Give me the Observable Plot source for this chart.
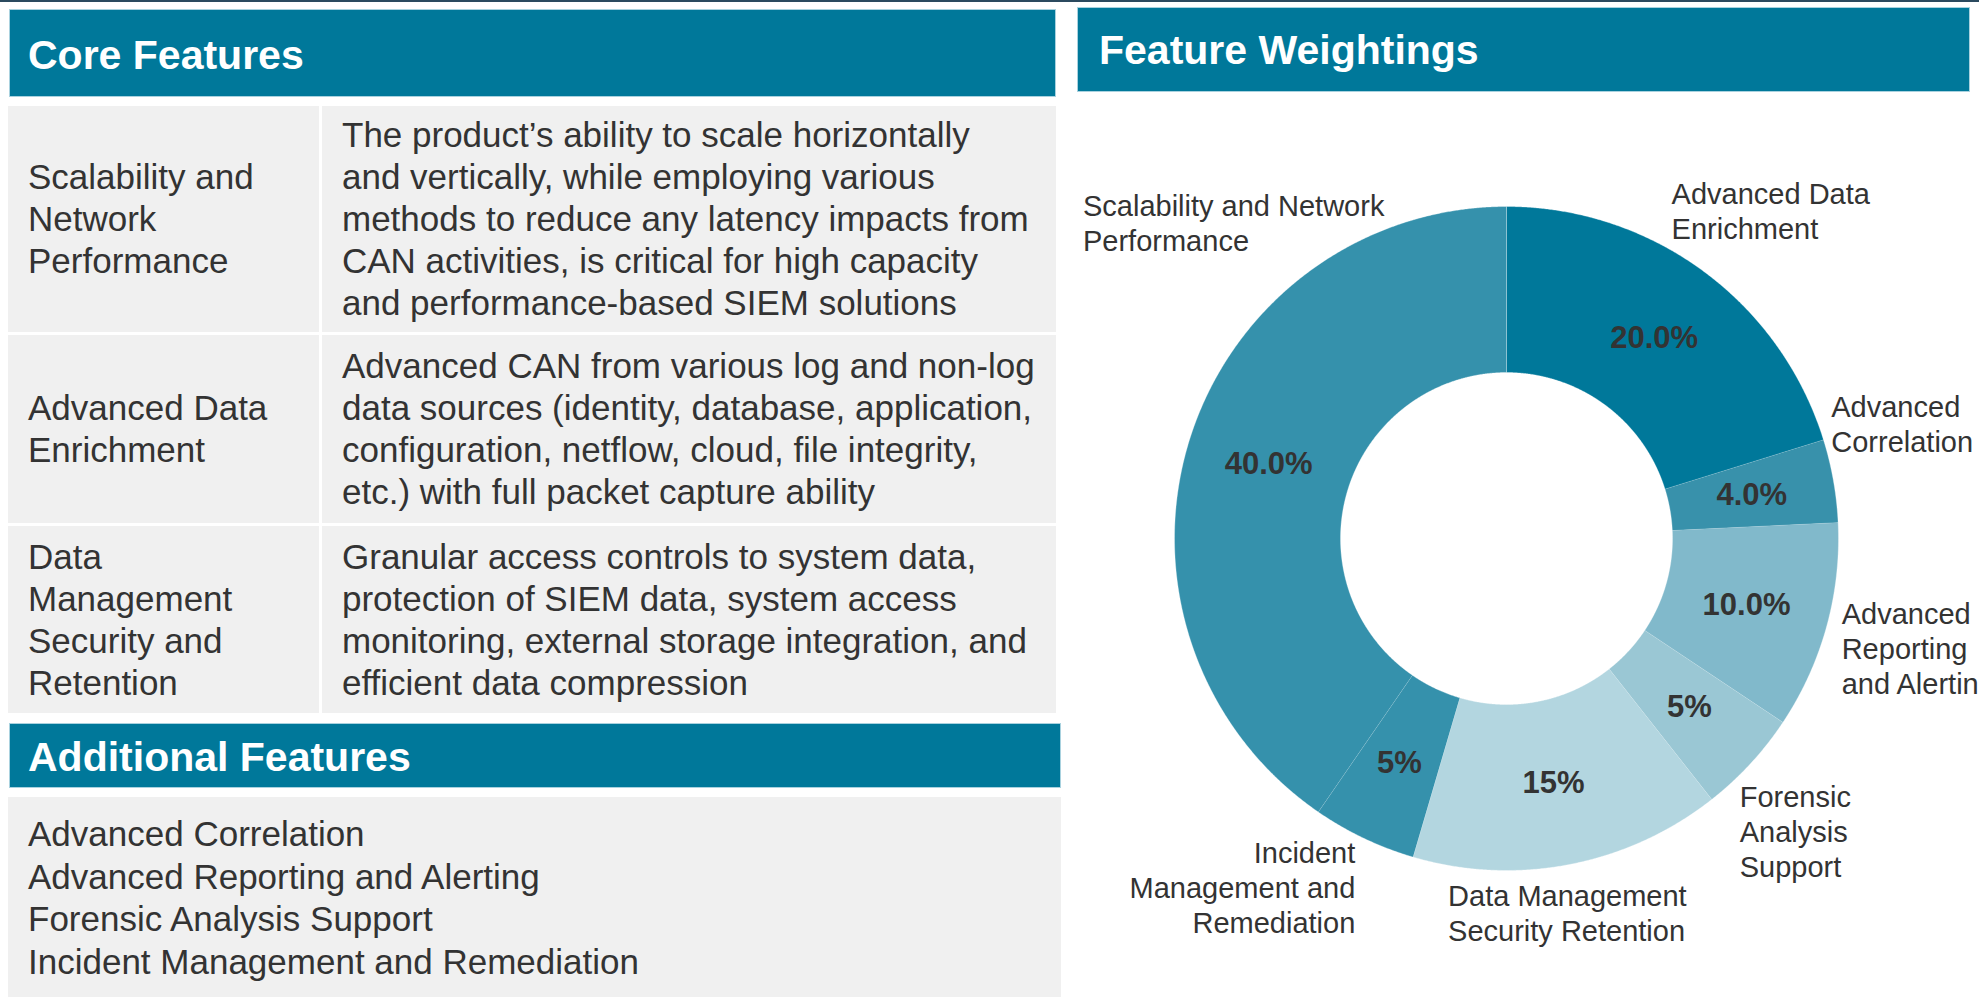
<!DOCTYPE html>
<html><head><meta charset="utf-8">
<script src="https://cdn.jsdelivr.net/npm/d3@7"></script>
<script src="https://cdn.jsdelivr.net/npm/@observablehq/plot@0.6"></script>
<style>
html,body{margin:0;padding:0;background:#fff;}
body{width:1979px;height:997px;overflow:hidden;position:relative;font-family:"Liberation Sans",Arial,sans-serif;color:#333;}
.abs{position:absolute;box-sizing:border-box;}
.hdr{background:#00789a;border:1px solid #a9d2df;}
.hdrtext{position:absolute;color:#fff;font-weight:bold;font-size:41px;line-height:41px;white-space:nowrap;}
.cell{background:#f0f0f0;display:flex;align-items:center;padding-left:20px;font-size:35px;line-height:42px;color:#333;}
.cell div{white-space:pre;}
</style></head><body>
<script>
// ---------- data ----------
const coreFeatures = ["Scalability and\nNetwork\nPerformance", "Advanced Data\nEnrichment", "Data\nManagement\nSecurity and\nRetention"];
const coreDescriptions = [
  "The product’s ability to scale horizontally\nand vertically, while employing various\nmethods to reduce any latency impacts from\nCAN activities, is critical for high capacity\nand performance-based SIEM solutions",
  "Advanced CAN from various log and non-log\ndata sources (identity, database, application,\nconfiguration, netflow, cloud, file integrity,\netc.) with full packet capture ability",
  "Granular access controls to system data,\nprotection of SIEM data, system access\nmonitoring, external storage integration, and\nefficient data compression"
];
const additionalFeatures = ["Advanced Correlation", "Advanced Reporting and Alerting", "Forensic Analysis Support", "Incident Management and Remediation"];

const categories = ["Advanced Data Enrichment", "Advanced Correlation", "Advanced Reporting and Alerting", "Forensic Analysis Support", "Data Management Security Retention", "Incident Management and Remediation", "Scalability and Network Performance"];
const weights = [20, 4, 10, 5, 15, 5, 40];
const valueLabels = ["20.0%", "4.0%", "10.0%", "5%", "15%", "5%", "40.0%"];
const sliceLabels = ["Advanced Data\nEnrichment", "Advanced\nCorrelation", "Advanced\nReporting\nand Alerting", "Forensic\nAnalysis\nSupport", "Data Management\nSecurity Retention", "Incident\nManagement and\nRemediation", "Scalability and Network\nPerformance"];

// ---------- styles / layout ----------
const sliceColors = ["#00789a", "#3891ab", "#81b9cb", "#9ac7d4", "#b3d6e0", "#3591ac", "#3591ac"];
const labelNudge = [[-78, 4, "start"], [-79, -42, "start"], [-60, 2, "start"], [-68, 16, "start"], [-136, -27, "start"], [25, -20, "end"], [-32, -193, "start"]];

function el(cls, css, parent) {
  const d = document.createElement("div");
  d.className = cls;
  Object.assign(d.style, css);
  (parent || document.body).appendChild(d);
  return d;
}
el("abs", {left: "0px", top: "0px", width: "1979px", height: "2px", background: "#2b4a5f"});

// Core Features header
el("abs hdr", {left: "9px", top: "9px", width: "1047px", height: "88px"});
el("hdrtext", {left: "28px", top: "35px"}).textContent = "Core Features";

const rowTops = [106, 335, 526], rowHeights = [226, 188, 187];
coreFeatures.forEach((name, i) => {
  const c1 = el("abs cell", {left: "8px", top: rowTops[i] + "px", width: "311px", height: rowHeights[i] + "px"});
  el("", {}, c1).textContent = name;
  const c2 = el("abs cell", {left: "322px", top: rowTops[i] + "px", width: "734px", height: rowHeights[i] + "px"});
  el("", {}, c2).textContent = coreDescriptions[i];
});

// Additional Features
el("abs hdr", {left: "9px", top: "723px", width: "1052px", height: "65px"});
el("hdrtext", {left: "28px", top: "737px"}).textContent = "Additional Features";
const box = el("abs", {left: "8px", top: "797px", width: "1053px", height: "200px", background: "#f0f0f0", paddingLeft: "20px", paddingTop: "16px", fontSize: "35px", lineHeight: "42.5px", color: "#333"});
additionalFeatures.forEach(f => { el("", {whiteSpace: "nowrap"}, box).textContent = f; });

// Feature Weightings header
el("abs hdr", {left: "1077px", top: "7px", width: "893px", height: "85px"});
el("hdrtext", {left: "1099px", top: "30px"}).textContent = "Feature Weightings";

// ---------- donut ----------
const W = 909, H = 897, cx = 436, cy = 438, R = 332, r0 = 166, RL = 410, RC = (R + r0) / 2;
const arcs = d3.pie().sort(null).value(d => d)(weights);
const slicePts = [], pct = [], lines = [];
arcs.forEach((a, i) => {
  const n = Math.max(8, Math.ceil((a.endAngle - a.startAngle) / 0.004));
  for (let k = 0; k <= n; k++) {
    const t = a.startAngle + (a.endAngle - a.startAngle) * k / n;
    slicePts.push({cat: categories[i], x: R * Math.sin(t), y: -R * Math.cos(t)});
  }
  for (let k = n; k >= 0; k--) {
    const t = a.startAngle + (a.endAngle - a.startAngle) * k / n;
    slicePts.push({cat: categories[i], x: r0 * Math.sin(t), y: -r0 * Math.cos(t)});
  }
  const m = (a.startAngle + a.endAngle) / 2;
  pct.push({x: RC * Math.sin(m), y: -RC * Math.cos(m), text: valueLabels[i]});
  const [ndx, ndy, anchor] = labelNudge[i];
  const px = RL * Math.sin(m) + ndx, py = -RL * Math.cos(m) + ndy;
  const ls = sliceLabels[i].split("\n");
  ls.forEach((s, k) => lines.push({x: px, y: py + (k - (ls.length - 1) / 2) * 35, text: s, anchor}));
});

const chart = Plot.plot({
  width: W, height: H, margin: 0,
  x: {domain: [-cx, W - cx], range: [0, W], axis: null},
  y: {domain: [-cy, H - cy], range: [0, H], axis: null},
  color: {domain: categories, range: sliceColors},
  style: {fontFamily: "'Liberation Sans', Arial, sans-serif", background: "transparent", overflow: "hidden"},
  marks: [
    Plot.line(slicePts, {x: "x", y: "y", z: "cat", fill: "cat", stroke: "#ffffff", strokeOpacity: 0.4, strokeWidth: 0.8}),
    Plot.text(pct, {x: "x", y: "y", text: "text", fontSize: 31, fontWeight: "bold", fill: "#333333"}),
    Plot.text(lines.filter(d => d.anchor === "start"), {x: "x", y: "y", text: "text", textAnchor: "start", fontSize: 29, fill: "#333333"}),
    Plot.text(lines.filter(d => d.anchor === "end"), {x: "x", y: "y", text: "text", textAnchor: "end", fontSize: 29, fill: "#333333"})
  ]
});
const holder = el("abs", {left: "1070px", top: "100px", width: W + "px", height: H + "px"});
holder.appendChild(chart);
</script>
</body></html>
